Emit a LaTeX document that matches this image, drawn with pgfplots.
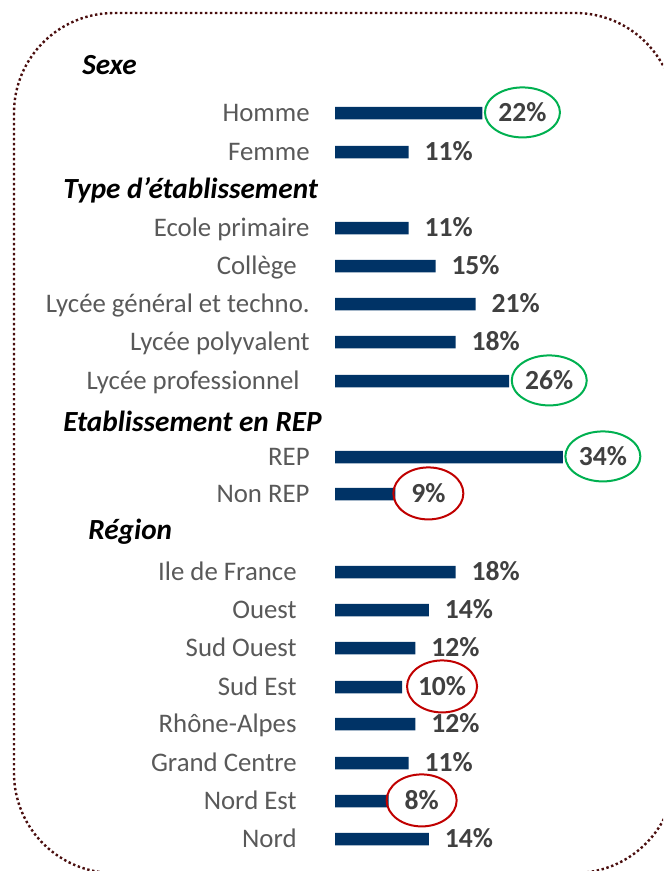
\documentclass[border=0pt]{standalone}
\usepackage{fontspec}
\setmainfont{Carlito}
\usepackage{pgfplots}
\pgfplotsset{compat=1.18}
\usepackage{pgfplotstable}
\usetikzlibrary{shapes.geometric}
\definecolor{Navy}{HTML}{003366}
\definecolor{Frame}{HTML}{4A0E0E}
\definecolor{CatGray}{HTML}{595959}
\definecolor{ValGray}{HTML}{404040}
\definecolor{HiGreen}{HTML}{00B050}
\definecolor{HiRed}{HTML}{C00000}

% v = percent, row = vertical position (pixels from top)
\pgfplotstableread{
v row
11 152
11 228
15 266
21 304
18 342
18 572
14 610
12 648
12 724
11 763
14 839
}\plaintab
\pgfplotstableread{
v row
22 113
26 381
34 457
}\hightab
\pgfplotstableread{
v row
9 494
10 687
8 801
}\lowtab

\newcommand{\hdr}{\fontsize{14.6}{17}\selectfont\bfseries\itshape}

\begin{document}
\begin{tikzpicture}
\useasboundingbox (0,0) rectangle (331.5pt,-435.5pt);
\begin{scope}
  \clip (0,0) rectangle (331.5pt,-435.5pt);
  \draw[Frame, line width=1.2pt, dash pattern=on 1.2pt off 1.3pt, rounded corners=50pt]
    (7pt,-6.5pt) rectangle (337.5pt,-436.5pt);
\end{scope}
\node[anchor=base west, inner sep=0pt] at (41pt,-37.5pt) {\hdr Sexe};
\node[anchor=base west, inner sep=0pt] at (31.5pt,-99.5pt) {\hdr Type d’établissement};
\node[anchor=base west, inner sep=0pt] at (31.5pt,-215.5pt) {\hdr Etablissement en REP};
\node[anchor=base west, inner sep=0pt] at (44pt,-269.5pt) {\hdr Région};
\begin{axis}[
  at={(167.5pt,0pt)}, anchor=north west,
  scale only axis, width=134pt, height=435.5pt,
  xmin=0, xmax=40, ymin=0, ymax=871, y dir=reverse,
  xbar, bar width=6.25pt, bar shift=0pt,
  axis line style={draw=none}, major tick length=0pt,
  xtick=\empty,
  ytick={113,152,228,266,304,342,381,457,494,572,610,648,687,724,763,801,839},
  yticklabels={Homme, Femme, Ecole primaire, Collège\hspace*{6.5pt}, Lycée général et techno.,
    Lycée polyvalent, Lycée professionnel\hspace*{5pt}, REP, Non REP,
    Ile de France\hspace*{6.5pt}, Ouest\hspace*{6.5pt}, Sud Ouest\hspace*{6.5pt},
    Sud Est\hspace*{6.5pt}, Rhône-Alpes\hspace*{6.5pt}, Grand Centre\hspace*{6.5pt},
    Nord Est\hspace*{6.5pt}, Nord\hspace*{6.5pt}},
  yticklabel style={font=\fontsize{13.4}{15}\selectfont, color=CatGray,
    anchor=mid east, inner sep=0pt, xshift=-12.5pt, yshift=-2pt},
  point meta=x,
  /pgf/number format/assume math mode=true,
  nodes near coords={\pgfmathprintnumber{\pgfplotspointmeta}\%},
  every node near coord/.append style={font=\fontsize{13.8}{16}\selectfont\bfseries,
    color=ValGray, anchor=text, inner sep=0pt, xshift=8pt, yshift=-4.4pt},
  clip=false]
\addplot[fill=Navy, draw=none] table[x=v, y=row] {\plaintab};
\addplot[fill=Navy, draw=none,
  every node near coord/.append style={shape=ellipse, draw=HiGreen, line width=1pt,
    minimum width=37.5pt, minimum height=25pt}] table[x=v, y=row] {\hightab};
\addplot[fill=Navy, draw=none,
  every node near coord/.append style={shape=ellipse, draw=HiRed, line width=1pt,
    minimum width=35pt, minimum height=26pt}] table[x=v, y=row] {\lowtab};
\end{axis}
\end{tikzpicture}
\end{document}
